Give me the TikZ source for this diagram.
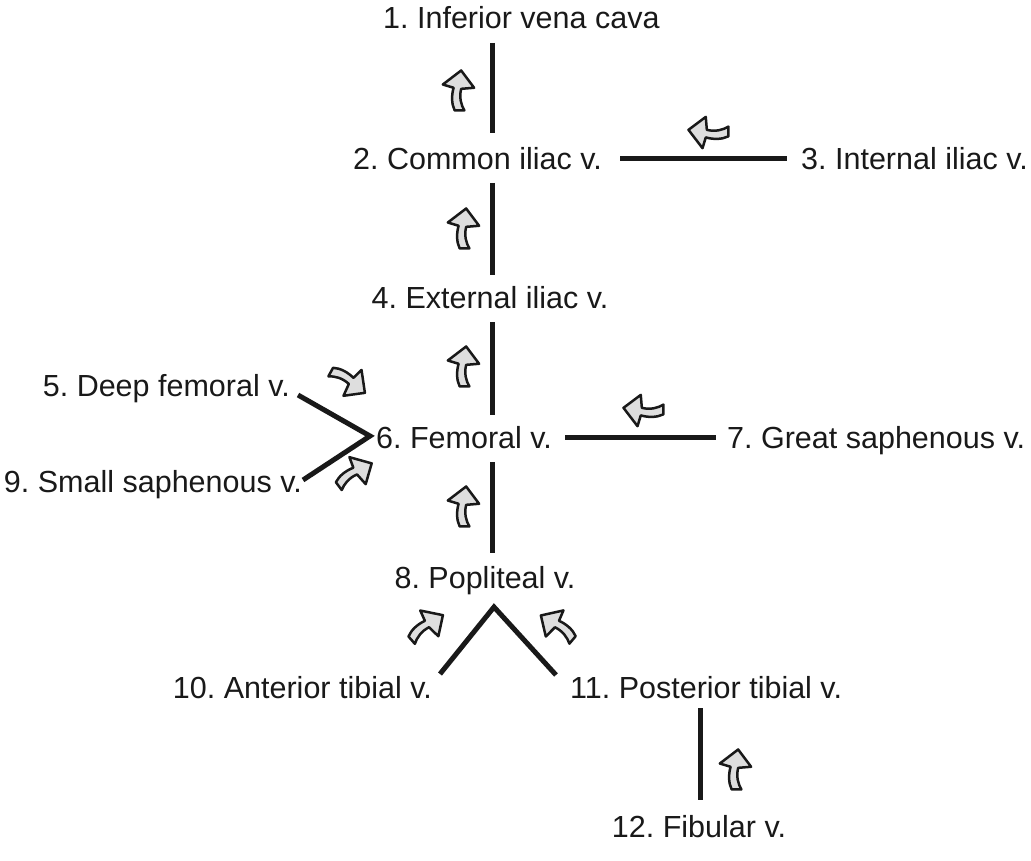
\documentclass[tikz,border=0pt]{standalone}
\usepackage{fontspec}
\setmainfont{Liberation Sans}
\frenchspacing
\begin{document}
\begin{tikzpicture}[x=1pt,y=-1pt,
  vein/.style={line width=5pt,draw=black!90},
  lbl/.style={inner sep=0pt,font=\fontsize{30.5}{33}\selectfont,text=black!90},
  flow/.pic={\draw[line width=2.5pt,fill=black!13,line join=round,draw=black!90,scale=1.08]
     (2,-19) -- (14,-3) -- (2,-2) .. controls (0,6) and (2,13) .. (5,18)
     -- (-4,18) .. controls (-7,12) and (-7,4) .. (-5,-3) -- (-15,-6) -- cycle;}]
\useasboundingbox (0,0) rectangle (1031,861);
% labels
\node[lbl,anchor=base west] (n1) at (383,29) {1. Inferior vena cava};
\node[lbl,anchor=base east] (n2) at (602,170) {2. Common iliac v.};
\node[lbl,anchor=base west] (n3) at (801,170) {3. Internal iliac v.};
\node[lbl,anchor=base] (n4) at (490,308) {4. External iliac v.};
\node[lbl,anchor=base east] (n5) at (290,396) {5. Deep femoral v.};
\node[lbl,anchor=base west] (n6) at (376,448) {6. Femoral v.};
\node[lbl,anchor=base west] (n7) at (727,448) {7. Great saphenous v.};
\node[lbl,anchor=base] (n8) at (485,588) {8. Popliteal v.};
\node[lbl,anchor=base east] (n9) at (302,492) {9. Small saphenous v.};
\node[lbl,anchor=base east] (n10) at (432,698) {10. Anterior tibial v.};
\node[lbl,anchor=base west] (n11) at (570,698) {11. Posterior tibial v.};
\node[lbl,anchor=base] (n12) at (699,837) {12. Fibular v.};
% connector end points
\coordinate (c1a) at (492,43);  \coordinate (c1b) at (492,133);
\coordinate (c3a) at (620,159); \coordinate (c3b) at (787,159);
\coordinate (c2a) at (492,183); \coordinate (c2b) at (492,275);
\coordinate (c4a) at (492,322); \coordinate (c4b) at (492,415);
\coordinate (c5) at (298,395);  \coordinate (cv6) at (370,436); \coordinate (c9) at (303,480);
\coordinate (c7a) at (565,437); \coordinate (c7b) at (716,437);
\coordinate (c6a) at (492,462); \coordinate (c6b) at (492,553);
\coordinate (c10) at (440,674); \coordinate (cv8) at (494,607); \coordinate (c11) at (556,675);
\coordinate (c12a) at (700,708); \coordinate (c12b) at (700,800);
% connectors
\draw[vein] (c1a) -- (c1b);
\draw[vein] (c3a) -- (c3b);
\draw[vein] (c2a) -- (c2b);
\draw[vein] (c4a) -- (c4b);
\draw[vein,line join=miter] (c5) -- (cv6) -- (c9);
\draw[vein] (c7a) -- (c7b);
\draw[vein] (c6a) -- (c6b);
\draw[vein,line join=miter] (c10) -- (cv8) -- (c11);
\draw[vein] (c12a) -- (c12b);
% flow arrows
\pic at (459,91) {flow};
\pic[rotate=90] at (709,132) {flow};
\pic at (464,229) {flow};
\pic at (464,367) {flow};
\pic[rotate=-119] at (348,381) {flow};
\pic[rotate=-53] at (354,474) {flow};
\pic[rotate=90] at (644,410) {flow};
\pic at (464,507) {flow};
\pic[rotate=-49] at (426,627) {flow};
\pic[rotate=50,xscale=-1] at (558,627) {flow};
\pic at (736,770) {flow};
\end{tikzpicture}
\end{document}
